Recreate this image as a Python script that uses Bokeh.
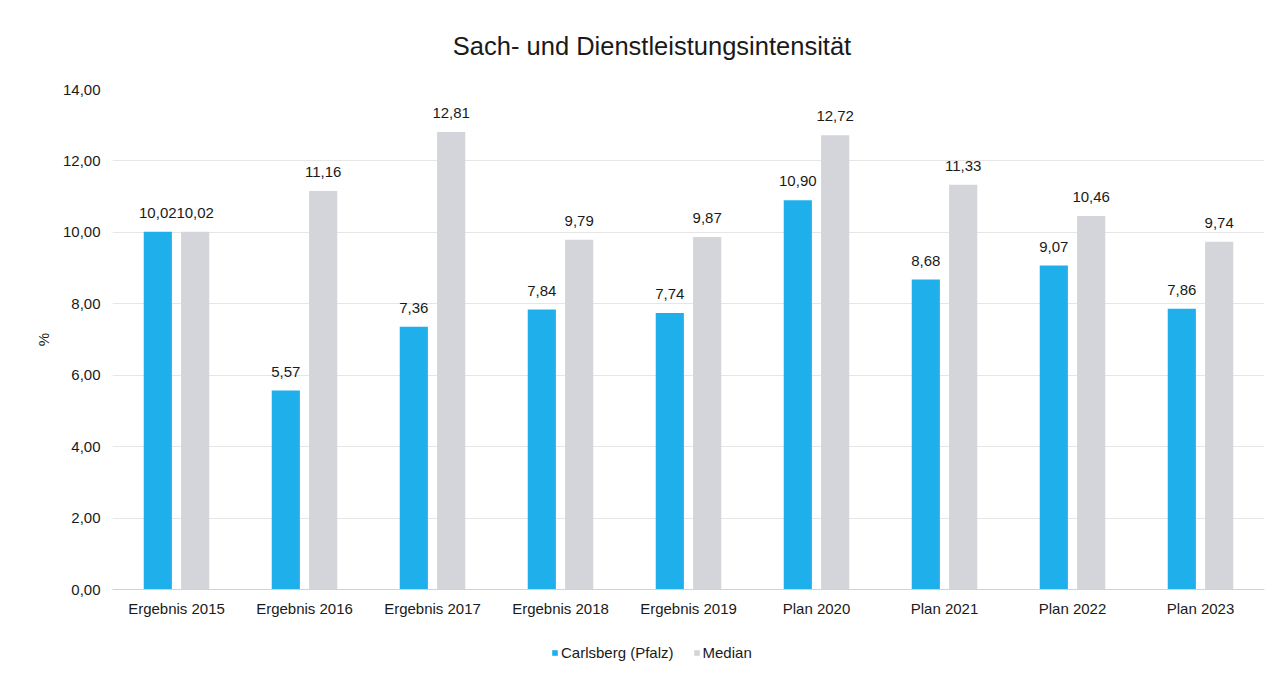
from bokeh.plotting import figure
from bokeh.models import ColumnDataSource, FactorRange, Range1d, LabelSet, Label, Legend, LegendItem, FixedTicker
from bokeh.core.properties import value
from bokeh.layouts import column
from bokeh.transform import dodge
from bokeh.embed import file_html
from bokeh.resources import INLINE

title_text = "Sach- und Dienstleistungsintensität"
categories = ["Ergebnis 2015", "Ergebnis 2016", "Ergebnis 2017", "Ergebnis 2018",
              "Ergebnis 2019", "Plan 2020", "Plan 2021", "Plan 2022", "Plan 2023"]
carlsberg = [10.02, 5.57, 7.36, 7.84, 7.74, 10.90, 8.68, 9.07, 7.86]
median = [10.02, 11.16, 12.81, 9.79, 9.87, 12.72, 11.33, 10.46, 9.74]
y_ticks = [0, 2, 4, 6, 8, 10, 12, 14]
series_names = ["Carlsberg (Pfalz)", "Median"]

def de(v):
    return f"{v:.2f}".replace(".", ",")

src = ColumnDataSource(dict(
    cat=categories, c=carlsberg, m=median,
    cl=[de(v) for v in carlsberg], ml=[de(v) for v in median],
))

FONT = "Liberation Sans"
BLUE = "#1FB0EC"
GRAY = "#D4D5DA"
TXT = "#1a1a1a"
W_TOTAL = 1272
FRAME_W = 1152


def strip(h):
    f = figure(width=W_TOTAL, height=h, x_range=Range1d(0, FRAME_W), y_range=Range1d(0, h),
               output_backend="svg", toolbar_location=None, min_border=0)
    f.axis.visible = False
    f.grid.grid_line_color = None
    f.outline_line_color = None
    f.background_fill_color = "white"
    f.border_fill_color = "white"
    return f

# title strip
TH = 70
tf = strip(TH)
tf.add_layout(Label(x=539.5, y=TH - 45, text=title_text, text_align="center",
                    text_baseline="middle", text_font=FONT, text_font_size="25.5px",
                    text_color=TXT))

# main chart
p = figure(width=W_TOTAL, height=549, x_range=FactorRange(*categories, range_padding=0.0),
           y_range=Range1d(0, 14), output_backend="svg", toolbar_location=None,
           min_border_left=112, min_border_right=8, min_border_top=19, min_border_bottom=0)
p.outline_line_color = None
p.background_fill_color = "white"
p.border_fill_color = "white"

OFF = 0.146
W = 0.22
r1 = p.vbar(x=dodge("cat", -OFF, range=p.x_range), top="c", width=W, source=src,
            fill_color=BLUE, line_color=None)
r2 = p.vbar(x=dodge("cat", OFF, range=p.x_range), top="m", width=W, source=src,
            fill_color=GRAY, line_color=None)

for xo, col, lab in [(-OFF, "c", "cl"), (OFF, "m", "ml")]:
    ls = LabelSet(x=dodge("cat", xo, range=p.x_range), y=col, text=lab, source=src,
                  y_offset=14, text_align="center", text_baseline="alphabetic",
                  text_font=value(FONT), text_font_size=value("15px"), text_color=TXT)
    p.add_layout(ls)

p.yaxis.ticker = FixedTicker(ticks=y_ticks)
p.yaxis.major_label_overrides = {t: de(t) for t in y_ticks}
p.yaxis.axis_line_color = None
p.yaxis.major_tick_line_color = None
p.yaxis.minor_tick_line_color = None
p.yaxis.major_label_standoff = 6
p.yaxis.major_label_text_font = FONT
p.yaxis.major_label_text_font_size = "15px"
p.yaxis.major_label_text_color = TXT
p.yaxis.axis_label = "%"
p.yaxis.axis_label_text_font = FONT
p.yaxis.axis_label_text_font_size = "15px"
p.yaxis.axis_label_text_font_style = "normal"
p.yaxis.axis_label_text_color = TXT
p.yaxis.axis_label_standoff = 8

p.xaxis.axis_line_color = "#D2D2D2"
p.xaxis.major_tick_line_color = None
p.xaxis.minor_tick_line_color = None
p.xaxis.major_label_standoff = 4
p.xaxis.major_label_text_font = FONT
p.xaxis.major_label_text_font_size = "15px"
p.xaxis.major_label_text_color = TXT

p.xgrid.grid_line_color = None
p.ygrid.grid_line_color = "#E6E6E6"

# legend strip
LH = 43
lf = strip(LH)
g1 = lf.vbar(x=[0], top=[0], bottom=[0], width=0, fill_color=BLUE, line_color=None)
g2 = lf.vbar(x=[0], top=[0], bottom=[0], width=0, fill_color=GRAY, line_color=None)
legend = Legend(items=[LegendItem(label=series_names[0], renderers=[g1]),
                       LegendItem(label=series_names[1], renderers=[g2])],
                orientation="horizontal", location=(439, 1),
                glyph_width=7, glyph_height=7, label_text_font=FONT, label_text_font_size="15px",
                label_text_color=TXT, border_line_color=None, background_fill_alpha=0,
                spacing=19, padding=0, margin=0, label_standoff=3)
lf.add_layout(legend, "center")

layout = column(tf, p, lf, spacing=0)
open("out.html", "w").write(file_html(layout, INLINE))
